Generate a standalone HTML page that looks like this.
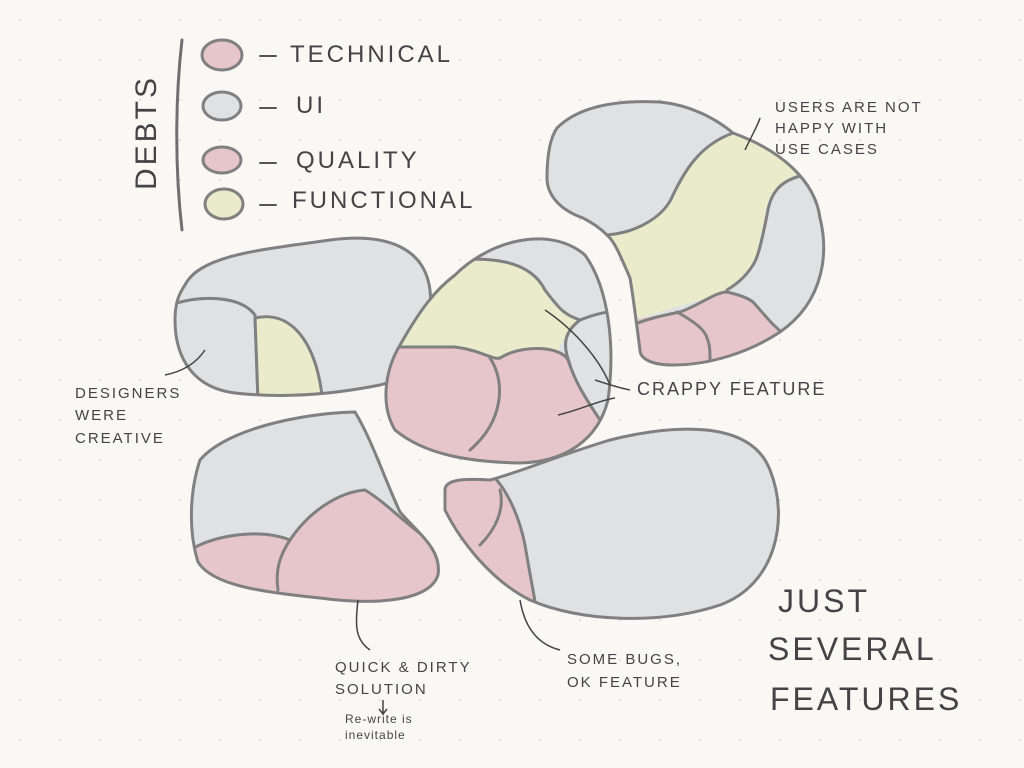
<!DOCTYPE html>
<html><head><meta charset="utf-8"><style>
body{margin:0;background:#f9f8f5;}
svg{display:block}
text{font-family:"Liberation Sans",sans-serif;fill:#444;}
</style></head><body>
<svg width="1024" height="768" viewBox="0 0 1024 768">
<defs>
<pattern id="dots" width="40" height="40" patternUnits="userSpaceOnUse"><circle cx="20" cy="20" r="1" fill="#d8d6d0"/></pattern>
<clipPath id="c1"><path d="M185,285 C200,255 260,250 330,240 C390,232 425,250 430,290 C435,340 420,375 380,385 C330,395 280,398 235,393 C195,388 175,360 175,320 C175,305 178,295 185,285 Z"/></clipPath>
<clipPath id="c2"><path d="M455,275 C490,240 550,225 585,255 C610,290 615,350 608,400 C598,440 565,462 520,463 C470,462 425,455 395,430 C380,405 385,370 400,345 C420,310 435,290 455,275 Z"/></clipPath>
<clipPath id="c3"><path id="o3" d="M557,128 C580,105 620,100 660,102 C690,105 715,118 733,133 C780,150 815,180 820,218 C828,250 826,300 780,332 C750,352 710,365 673,365 C650,365 640,358 640,350 C636,320 633,295 630,278 C620,255 615,242 607,235 C598,226 590,222 583,218 C560,210 547,195 547,178 C547,155 550,138 557,128 Z"/></clipPath>
<clipPath id="c4"><path d="M200,460 C225,430 300,413 355,412 C372,440 385,480 400,512 C420,535 442,550 438,575 C430,600 380,606 320,598 C260,592 212,585 198,562 C188,530 190,490 200,460 Z"/></clipPath>
<clipPath id="c5"><path d="M445,490 C445,480 462,478 490,480 C520,472 560,455 610,440 C670,425 750,418 770,470 C790,520 775,585 720,605 C660,625 580,622 530,600 C490,580 460,540 445,510 Z"/></clipPath>
</defs>
<rect width="1024" height="768" fill="#f9f8f5"/>
<rect width="1024" height="768" fill="url(#dots)"/>
<g stroke="#808080" stroke-width="3" fill="none" stroke-linecap="round">
<!-- blob1 -->
<g clip-path="url(#c1)">
<rect x="170" y="230" width="270" height="170" fill="#dfe1e2" stroke="none"/>
<path d="M170,305 C200,295 240,295 255,315 L258,400 L170,400 Z" fill="#dfe1e2"/>
<path d="M255,318 C290,310 315,340 322,395 L258,400 Z" fill="#e9ebcb"/>
</g>
<path d="M185,285 C200,255 260,250 330,240 C390,232 425,250 430,290 C435,340 420,375 380,385 C330,395 280,398 235,393 C195,388 175,360 175,320 C175,305 178,295 185,285 Z"/>
<!-- blob2 -->
<g clip-path="url(#c2)">
<rect x="380" y="225" width="240" height="245" fill="#dfe1e2" stroke="none"/>
<path d="M440,262 C490,255 530,260 545,290 C560,310 570,320 580,320 C565,335 560,345 555,355 L380,360 L380,262 Z" fill="#e9ebcb" stroke="none"/>
<path d="M380,347 L455,347 C480,350 492,360 500,358 C520,345 560,345 568,360 C575,380 580,390 600,420 L610,470 L380,470 Z" fill="#e6c6cb"/>
<path d="M490,358 C505,380 505,420 470,450" />
<path d="M440,262 C490,255 530,260 545,290 C560,310 565,315 580,320 C600,312 610,312 620,310"/>
<path d="M580,320 C560,335 565,350 570,365"/>
</g>
<path d="M455,275 C490,240 550,225 585,255 C610,290 615,350 608,400 C598,440 565,462 520,463 C470,462 425,455 395,430 C380,405 385,370 400,345 C420,310 435,290 455,275 Z"/>
<!-- blob3 -->
<g clip-path="url(#c3)">
<rect x="540" y="95" width="300" height="280" fill="#dfe1e2" stroke="none"/>
<path d="M607,235 C640,232 665,215 673,195 C685,170 700,145 733,133 L790,150 L797,178 C775,185 768,195 765,215 C760,240 755,262 753,262 C745,278 735,285 727,288 L727,292 L600,330 Z" fill="#e9ebcb" stroke="none"/>
<path d="M600,330 C620,322 640,318 680,312 C700,305 715,292 727,292 C740,295 748,298 753,302 C765,315 772,325 785,335 L785,380 L600,380 Z" fill="#e6c6cb" stroke="none"/>
<path d="M607,235 C640,232 665,215 673,195 C685,170 700,145 733,133"/>
<path d="M800,176 C778,182 770,195 767,215 C762,240 758,258 753,265 C745,278 735,285 727,290"/>
<path d="M632,325 C650,318 665,315 680,312 C700,305 715,292 727,292 C740,295 748,298 753,302 C765,315 772,325 785,335"/>
<path d="M677,312 C695,322 705,330 707,338 C710,345 710,352 710,360"/>
</g>
<use href="#o3"/>
<!-- blob4 -->
<g clip-path="url(#c4)">
<rect x="185" y="405" width="260" height="200" fill="#dfe1e2" stroke="none"/>
<path d="M190,550 C215,535 260,528 290,540 C310,510 340,492 365,490 C390,505 410,530 445,550 L445,610 L190,610 Z" fill="#e6c6cb"/>
<path d="M290,540 C280,555 275,570 278,590"/>
</g>
<path d="M200,460 C225,430 300,413 355,412 C372,440 385,480 400,512 C420,535 442,550 438,575 C430,600 380,606 320,598 C260,592 212,585 198,562 C188,530 190,490 200,460 Z"/>
<!-- blob5 -->
<g clip-path="url(#c5)">
<rect x="440" y="415" width="350" height="220" fill="#dfe1e2" stroke="none"/>
<path d="M440,478 L495,478 C510,495 520,520 525,545 C530,575 535,600 540,630 L440,630 Z" fill="#e6c6cb"/>
<path d="M500,490 C505,510 495,530 480,545"/>
</g>
<path d="M445,490 C445,480 462,478 490,480 C520,472 560,455 610,440 C670,425 750,418 770,470 C790,520 775,585 720,605 C660,625 580,622 530,600 C490,580 460,540 445,510 Z"/>
<!-- legend -->
<path d="M182,40 C175,100 175,170 182,230" stroke="#707070"/>
<ellipse cx="222" cy="55" rx="20" ry="15" fill="#e6c6cb"/>
<ellipse cx="222" cy="106" rx="19" ry="14" fill="#dfe1e2"/>
<ellipse cx="222" cy="160" rx="19" ry="13" fill="#e6c6cb"/>
<ellipse cx="224" cy="204" rx="19" ry="15" fill="#e9ebcb"/>
<path d="M260,56 h16 M260,108 h16 M260,163 h16 M260,205 h16" stroke="#555" stroke-width="2"/>
</g>
<!-- annotation lines -->
<g stroke="#444" stroke-width="1.5" fill="none">
<path d="M205,350 C195,365 180,372 165,375"/>
<path d="M545,310 C575,330 600,360 610,385"/>
<path d="M595,380 C610,385 620,388 630,390"/>
<path d="M558,415 C580,410 600,400 615,398"/>
<path d="M745,150 C752,135 758,125 760,118"/>
<path d="M358,600 C355,625 355,640 370,650"/>
<path d="M520,600 C525,630 540,645 560,650"/>
<path d="M383,700 v14 M379,709 l4,5 l4,-5"/>
</g>
<g font-size="24" letter-spacing="3">
<text x="290" y="62">TECHNICAL</text>
<text x="296" y="113">UI</text>
<text x="296" y="168">QUALITY</text>
<text x="292" y="208">FUNCTIONAL</text>
<text transform="translate(156,190) rotate(-90)" font-size="30">DEBTS</text>
</g>
<g font-size="15" letter-spacing="2">
<text x="775" y="112">USERS ARE NOT</text>
<text x="775" y="133">HAPPY WITH</text>
<text x="775" y="154">USE CASES</text>
<text x="75" y="398">DESIGNERS</text>
<text x="75" y="420">WERE</text>
<text x="75" y="443">CREATIVE</text>
<text x="335" y="672">QUICK &amp; DIRTY</text>
<text x="335" y="694">SOLUTION</text>
<text x="567" y="664">SOME BUGS,</text>
<text x="567" y="687">OK FEATURE</text>
<text x="637" y="395" font-size="18">CRAPPY FEATURE</text>
<text x="345" y="723" font-size="12" letter-spacing="1">Re-write is</text>
<text x="345" y="739" font-size="12" letter-spacing="1">inevitable</text>
</g>
<g font-size="32" letter-spacing="3">
<text x="778" y="612">JUST</text>
<text x="768" y="660">SEVERAL</text>
<text x="770" y="710">FEATURES</text>
</g>
</svg>
</body></html>
